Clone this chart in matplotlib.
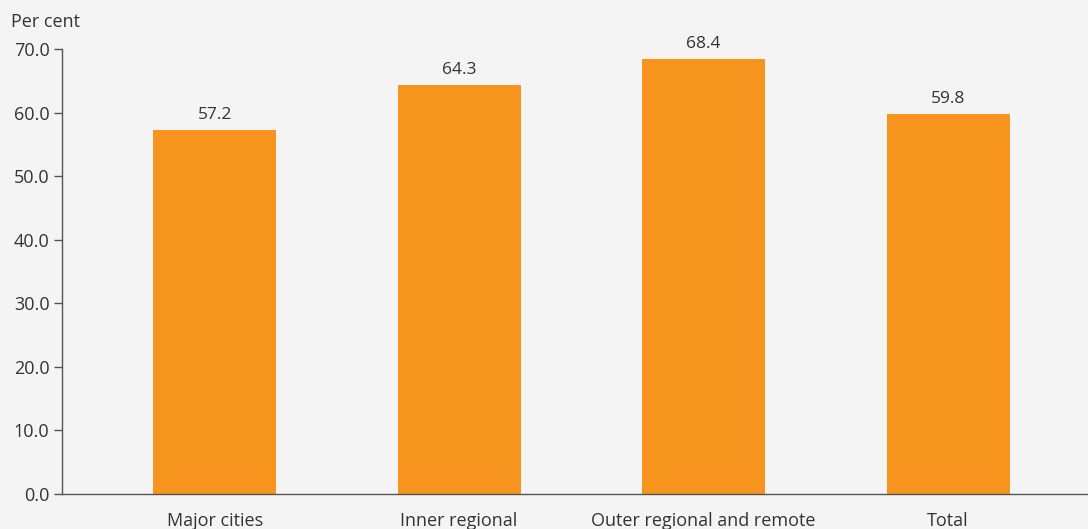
import matplotlib
matplotlib.use('Agg')
import matplotlib.pyplot as plt
import numpy as np

# Data
categories = ['Major cities', 'Inner regional', 'Outer regional and remote', 'Total']
values = [57.2, 64.3, 68.4, 59.8]
yticks = [0, 10, 20, 30, 40, 50, 60, 70]

BG = '#f4f4f4'
BAR = '#f7941e'
TXT = '#333333'

plt.rcParams['font.family'] = ['Open Sans', 'DejaVu Sans']

fig = plt.figure(figsize=(10.88, 5.29), dpi=100, facecolor=BG)
ax = fig.add_axes([62 / 1088, 1 - 494 / 529, 1 - 62 / 1088, (494 - 49) / 529])
ax.set_facecolor(BG)

x = np.arange(len(categories))
bars = ax.bar(x, values, width=0.503, color=BAR, zorder=2)

for xi, v in zip(x, values):
    ax.text(xi, v + 1.1, f'{v:.1f}', ha='center', va='bottom', fontsize=12.5, color=TXT)

ax.set_xlim(-0.624, 3.572)
ax.set_ylim(0, 70)
ax.set_yticks(yticks)
ax.set_yticklabels([f'{t:.1f}' for t in yticks], fontsize=13, color=TXT)
ax.set_xticks(x)
ax.set_xticklabels(categories, fontsize=13, color=TXT)
ax.tick_params(axis='x', length=0, pad=13)
ax.tick_params(axis='y', length=6, width=1, color='#555555', pad=3)

for s in ['top', 'right']:
    ax.spines[s].set_visible(False)
for s in ['left', 'bottom']:
    ax.spines[s].set_color('#555555')
    ax.spines[s].set_linewidth(1)

fig.text(11 / 1088, 1 - 22 / 529, 'Per cent', fontsize=13, color=TXT, ha='left', va='center')

fig.savefig('out.png', dpi=100, facecolor=BG)
